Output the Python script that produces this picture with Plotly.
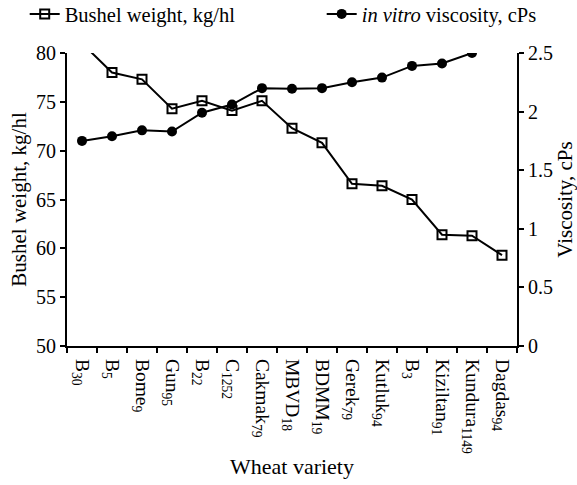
import plotly.graph_objects as go

varieties = ["B<sub>30</sub>", "B<sub>5</sub>", "Bome<sub>9</sub>", "Gun<sub>95</sub>", "B<sub>22</sub>",
             "C<sub>1252</sub>", "Cakmak<sub>79</sub>", "MBVD<sub>18</sub>", "BDMM<sub>19</sub>",
             "Gerek<sub>79</sub>", "Kutluk<sub>94</sub>", "B<sub>3</sub>", "Kiziltan<sub>91</sub>",
             "Kundura<sub>1149</sub>", "Dagdas<sub>94</sub>"]
bushel_weight = [81.0, 78.0, 77.3, 74.3, 75.1, 74.1, 75.1, 72.3, 70.8, 66.6, 66.4, 65.0, 61.4, 61.3, 59.3]
viscosity = [1.75, 1.79, 1.84, 1.83, 1.99, 2.06, 2.20, 2.195, 2.20, 2.25, 2.29, 2.39, 2.41, 2.50, 2.57]

FONT = "Liberation Serif"
TICK = dict(family=FONT, size=20, color="black")

fig = go.Figure()
fig.add_trace(go.Scatter(
    x=varieties, y=bushel_weight, name="Bushel weight, kg/hl",
    mode="lines+markers",
    line=dict(color="black", width=2),
    marker=dict(symbol="square-open", size=9, color="black", line=dict(width=2, color="black")),
    yaxis="y", legend="legend"))
fig.add_trace(go.Scatter(
    x=varieties, y=viscosity, name="<i>in vitro</i> viscosity, cPs",
    mode="lines+markers",
    line=dict(color="black", width=2),
    marker=dict(symbol="circle", size=10, color="black"),
    yaxis="y2", legend="legend2"))

legend_common = dict(yref="container", y=0.971, yanchor="middle", xanchor="left",
                     font=dict(family=FONT, size=20.5, color="black"),
                     bgcolor="rgba(0,0,0,0)", itemwidth=30)

fig.update_layout(
    width=577, height=485,
    margin=dict(l=67, r=60, t=53, b=139, autoexpand=False),
    paper_bgcolor="white", plot_bgcolor="white",
    font=dict(family=FONT, size=20, color="black"),
    showlegend=True,
    legend=dict(x=-0.094, **legend_common),
    legend2=dict(x=0.566, **legend_common),
    xaxis=dict(
        type="category", range=[-0.5, 14.5], tickson="boundaries",
        ticks="outside", ticklen=5, tickwidth=2, tickcolor="black",
        showline=True, linecolor="black", linewidth=2, showgrid=False, zeroline=False,
        tickangle=90, tickfont=dict(family=FONT, size=19.5, color="black"),
        ticklabelstandoff=7,
        title=dict(text="Wheat variety", font=dict(family=FONT, size=22, color="black"), standoff=6),
    ),
    yaxis=dict(
        range=[50, 80], dtick=5, ticks="outside", ticklen=5, tickwidth=2, tickcolor="black",
        showline=True, linecolor="black", linewidth=2, showgrid=False, zeroline=False,
        tickfont=TICK,
        title=dict(text="Bushel weight, kg/hl", font=dict(family=FONT, size=21, color="black"), standoff=4),
    ),
    yaxis2=dict(
        range=[0, 2.5], dtick=0.5, overlaying="y", side="right",
        ticks="outside", ticklen=5, tickwidth=2, tickcolor="black",
        showline=True, linecolor="black", linewidth=2, showgrid=False, zeroline=False,
        tickfont=TICK,
        title=dict(text="Viscosity, cPs", font=dict(family=FONT, size=21, color="black"), standoff=1),
    ),
)

fig.write_html("out.html", config={"displayModeBar": False},
               post_script="document.body.style.margin='0';")
